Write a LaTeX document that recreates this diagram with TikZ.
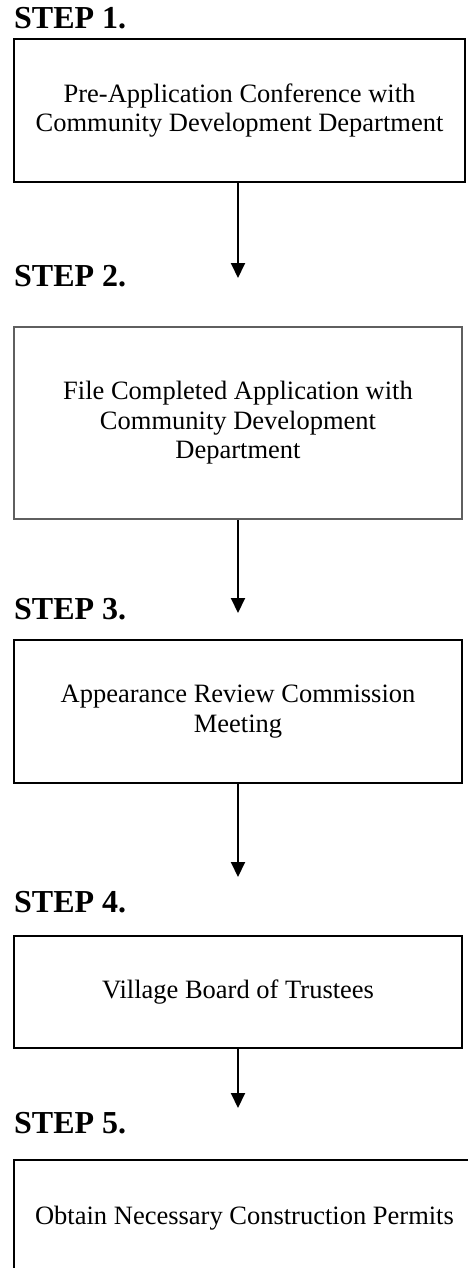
\documentclass[tikz,border=0pt]{standalone}
\usepackage{fontspec}
\setmainfont{Liberation Serif}
\usetikzlibrary{arrows.meta}
\begin{document}
\begin{tikzpicture}[x=1pt,y=-1pt,
  stepbox/.style={draw=black, line width=2pt, rectangle, inner sep=0pt, align=center,
    font=\fontsize{26.5}{29.5}\selectfont},
  graybox/.style={stepbox, draw={rgb,255:red,95;green,95;blue,95}, line width=2.4pt},
  steplabel/.style={anchor=base west, inner sep=0pt, font=\fontsize{32}{36}\selectfont\bfseries},
  arr/.style={line width=2pt, -{Triangle[length=15pt,width=14pt]}}]
\useasboundingbox (0,0) rectangle (467,1268);

\node[steplabel] (l1) at (14,29) {STEP 1.};
\node[stepbox, minimum width=451pt, minimum height=143pt] (b1) at (239.5,110.5)
  {Pre-Application Conference with\\Community Development Department};

\node[steplabel] (l2) at (14,286) {STEP 2.};
\node[graybox, minimum width=448pt, minimum height=192pt] (b2) at (238,423)
  {File Completed Application with\\Community Development\\Department};

\node[steplabel] (l3) at (14,619) {STEP 3.};
\node[stepbox, minimum width=448pt, minimum height=143pt] (b3) at (238,711.5)
  {Appearance Review Commission\\Meeting};

\node[steplabel] (l4) at (14,912) {STEP 4.};
\node[stepbox, minimum width=448pt, minimum height=112pt] (b4) at (238,992)
  {Village Board of Trustees};

\node[steplabel] (l5) at (14,1133) {STEP 5.};
\node[stepbox, minimum width=461pt, minimum height=116pt] (b5) at (244.5,1218)
  {Obtain Necessary Construction Permits};

\coordinate (t1) at (238,278);
\coordinate (t2) at (238,613);
\coordinate (t3) at (238,877);
\coordinate (t4) at (238,1108);

\draw[arr] (b1.south -| t1) -- (t1);
\draw[arr] (b2.south -| t2) -- (t2);
\draw[arr] (b3.south -| t3) -- (t3);
\draw[arr] (b4.south -| t4) -- (t4);
\end{tikzpicture}
\end{document}
